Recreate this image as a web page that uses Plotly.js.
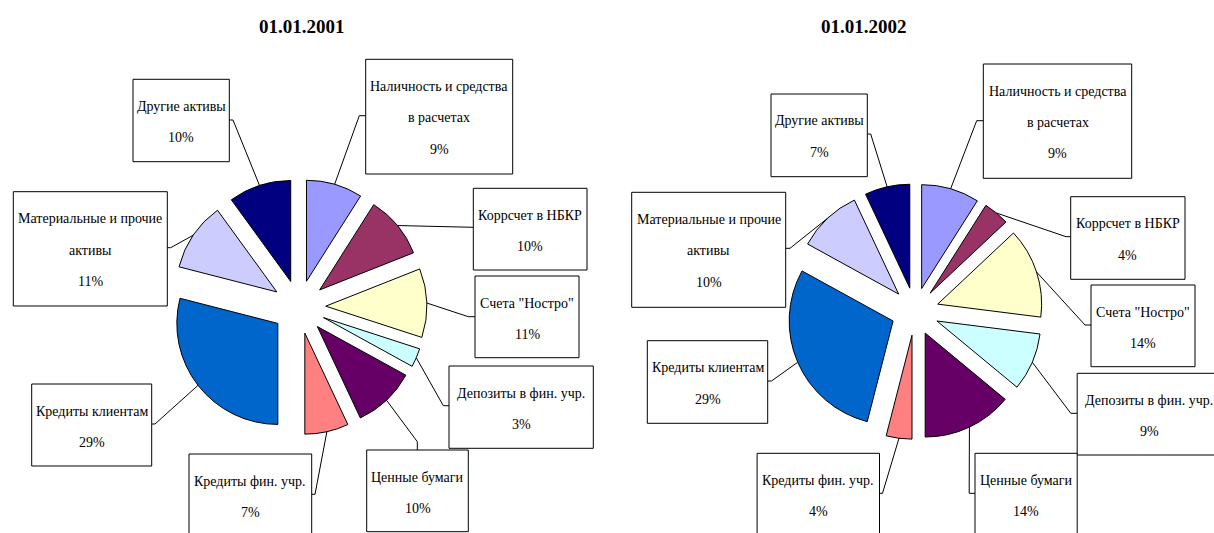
<!DOCTYPE html>
<html>
<head>
<meta charset="utf-8">
<script src="https://cdn.plot.ly/plotly-3.0.1.min.js"></script>
<style>html,body{margin:0;padding:0;background:#fff;}#chart{width:1214px;height:533px;}</style>
</head>
<body>
<div id="chart"></div>
<script>
// ---- data ----
const categories = [
  "Наличность и средства<br>в расчетах",
  "Коррсчет в НБКР",
  "Счета \"Ностро\"",
  "Депозиты в фин. учр.",
  "Ценные бумаги",
  "Кредиты фин. учр.",
  "Кредиты клиентам",
  "Материальные и прочие<br>активы",
  "Другие активы"
];
const values2001 = [9, 10, 11, 3, 10, 7, 29, 11, 10];
const values2002 = [9, 4, 14, 9, 14, 4, 29, 10, 7];
const chartTitles = ["01.01.2001", "01.01.2002"];
const sliceColors = ["#9999FF", "#993366", "#FFFFCC", "#CCFFFF", "#660066", "#FF8080", "#0066CC", "#CCCCFF", "#000080"];

// ---- layout (pixels) ----
const W = 1214, H = 533;
const FONT = "Liberation Serif, Times New Roman, serif";
const charts = [
  {
    values: values2001, title: chartTitles[0], titleX: 302, titleY: 27,
    cx: 299, cy: 307, half: 127.8, pull: 0.265,
    boxes: [
      [365.7, 59.3, 512.7, 174], [473.3, 188.3, 587, 270], [475, 276, 579, 357.7],
      [449, 366, 593.3, 448.3], [366.7, 450, 468.3, 531.7], [189, 454, 311.7, 545],
      [31.7, 384, 151.7, 466], [13.3, 191.7, 167.3, 306], [133, 79.3, 229.3, 161.7]
    ],
    // [attachX, attachY, elbowX, elbowY]
    anchors: [
      [365.7, 115.7, 359.3, 115.7], [473.3, 227.3, 473.3, 227.3], [475, 316.7, 468.3, 316.7],
      [449, 405.7, 443.3, 405.7], [417.3, 450, 417.3, 441.7], [311.7, 494.3, 315, 494.3],
      [151.7, 424, 155, 424], [167.3, 247.7, 170.7, 247.7], [229.3, 120, 233, 120]
    ]
  },
  {
    values: values2002, title: chartTitles[1], titleX: 863.5, titleY: 27,
    cx: 915, cy: 311.5, half: 127.8, pull: 0.23,
    boxes: [
      [983.3, 64, 1131.7, 178.3], [1070.7, 196.7, 1185, 279.3], [1091, 285, 1195, 366.7],
      [1077.2, 373.3, 1221, 455], [975, 453.3, 1077.2, 545], [757.1, 453.3, 879.5, 545],
      [647.3, 340.7, 767.7, 423.3], [631.7, 192.3, 785.7, 307.3], [771, 94, 867.3, 176.7]
    ],
    anchors: [
      [983.3, 120.7, 976.7, 120.7], [1070.7, 236.7, 1066, 236.7], [1091, 325, 1085, 325],
      [1077.2, 413.3, 1070.8, 413.3], [975, 493.3, 969.2, 493.3], [879.5, 493.3, 882.5, 493.3],
      [767.7, 381, 771.5, 381], [785.7, 248.3, 790, 248.3], [867.3, 134, 870.7, 134]
    ]
  }
];

const px = x => x / W;
const py = y => 1 - y / H;

const traces = [];
const shapes = [];
const annotations = [];

charts.forEach(c => {
  const dom = {
    x: [px(c.cx - c.half), px(c.cx + c.half)],
    y: [py(c.cy + c.half), py(c.cy - c.half)]
  };
  traces.push({
    type: "pie",
    values: c.values,
    labels: categories,
    sort: false,
    direction: "clockwise",
    rotation: 0,
    pull: c.pull,
    textinfo: "none",
    hoverinfo: "label+percent",
    showlegend: false,
    marker: { colors: sliceColors, line: { color: "#000000", width: 1 } },
    domain: dom
  });

  annotations.push({
    xref: "paper", yref: "paper", x: px(c.titleX), y: py(c.titleY),
    xanchor: "center", yanchor: "middle", showarrow: false,
    text: "<b>" + c.title + "</b>",
    font: { family: FONT, size: 19, color: "#000" }
  });

  // geometry from data through the pie's own radius (domain half-size)
  const total = c.values.reduce((a, b) => a + b, 0);
  const R = Math.min(W * (dom.x[1] - dom.x[0]), H * (dom.y[1] - dom.y[0])) / 2;
  let cum = 0;
  c.values.forEach((v, i) => {
    const theta = 2 * Math.PI * (cum + v / 2) / total;
    cum += v;
    const ax = c.cx + R * Math.sin(theta);
    const ay = c.cy - R * Math.cos(theta);
    const b = c.boxes[i];
    const a = c.anchors[i];
    shapes.push({
      type: "path", xref: "paper", yref: "paper",
      path: `M ${px(ax)},${py(ay)} L ${px(a[2])},${py(a[3])} L ${px(a[0])},${py(a[1])}`,
      line: { color: "#000", width: 1 }
    });
    shapes.push({
      type: "rect", xref: "paper", yref: "paper",
      x0: px(b[0]), x1: px(b[2]), y0: py(b[1]), y1: py(b[3]),
      line: { color: "#000", width: 1 }, fillcolor: "#fff"
    });
    const lines = categories[i].split("<br>").concat([v + "%"]);
    const midX = (b[0] + b[2]) / 2;
    lines.forEach((t, k) => {
      annotations.push({
        xref: "paper", yref: "paper", x: px(midX), y: py(b[1] + 27 + 31.5 * k),
        xanchor: "center", yanchor: "middle", showarrow: false,
        text: t,
        font: { family: FONT, size: 14, color: "#000" }
      });
    });
  });
});

const layout = {
  width: W, height: H, autosize: false,
  margin: { l: 0, r: 0, t: 0, b: 0 },
  paper_bgcolor: "#ffffff", plot_bgcolor: "#ffffff",
  showlegend: false,
  shapes: shapes,
  annotations: annotations
};

Plotly.newPlot("chart", traces, layout, { displayModeBar: false, staticPlot: true });
</script>
</body>
</html>
